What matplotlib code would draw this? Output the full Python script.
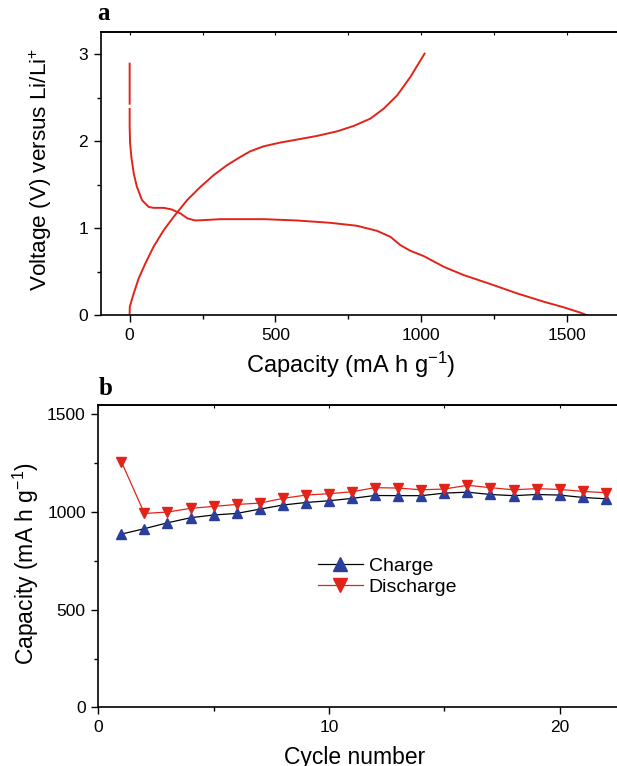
import numpy as np
import matplotlib
matplotlib.use('agg')
import matplotlib.pyplot as plt
from matplotlib.ticker import MultipleLocator, FixedLocator, NullFormatter

plt.rcParams['font.family'] = ['Liberation Sans', 'DejaVu Sans']
plt.rcParams['mathtext.default'] = 'regular'

# panel a: first discharge / charge profile (mA h/g, V)
dis_cap = [0, 0, np.nan, 0, 0, 1.5, 5.8, 14, 25, 42.5, 65, 82, 117, 145, 174, 199, 225, 254,
           311, 414, 460, 574, 689, 780, 849, 895, 929, 963, 1009, 1078, 1146, 1238,
           1329, 1421, 1489, 1547, 1570]
dis_volt = [2.89, 2.43, np.nan, 2.37, 2.163, 1.98, 1.819, 1.628, 1.475, 1.322, 1.245, 1.234,
            1.234, 1.215, 1.170, 1.112, 1.089, 1.093, 1.104, 1.104, 1.104, 1.089, 1.062,
            1.028, 0.970, 0.901, 0.806, 0.741, 0.680, 0.557, 0.462, 0.359, 0.252, 0.156,
            0.092, 0.030, 0.0]
chg_cap = [0, 0.5, 14, 31, 54, 82, 117, 151, 197, 243, 288, 334, 380, 414, 460, 517, 574,
           643, 712, 769, 826, 872, 918, 963, 1012]
chg_volt = [0.023, 0.099, 0.252, 0.424, 0.596, 0.787, 0.978, 1.131, 1.322, 1.475, 1.609,
            1.724, 1.819, 1.884, 1.941, 1.984, 2.018, 2.060, 2.113, 2.175, 2.259, 2.374,
            2.526, 2.736, 3.005]

# panel b: cycling performance
cycles = list(range(1, 23))
charge = [887, 915, 945, 971, 985, 993, 1015, 1036, 1049, 1058, 1070, 1085, 1084, 1084,
          1097, 1102, 1090, 1084, 1090, 1087, 1075, 1068]
discharge = [1258, 993, 1000, 1019, 1029, 1039, 1046, 1070, 1087, 1094, 1104, 1125, 1123,
             1114, 1118, 1137, 1125, 1114, 1120, 1116, 1106, 1099]

red = '#e2231a'
blue = '#2a3f9c'

fig = plt.figure(figsize=(6.17, 7.66), dpi=100)

# ---- panel a
ax1 = fig.add_axes([0.1629, 0.5884, 0.8974, 0.3694])
ax1.plot(dis_cap, dis_volt, color=red, lw=1.4)
ax1.plot(chg_cap, chg_volt, color=red, lw=1.4)
ax1.set_xlim(-100, 1800)
ax1.set_ylim(0, 3.25)
ax1.xaxis.set_major_locator(FixedLocator([0, 500, 1000, 1500]))
ax1.xaxis.set_minor_locator(FixedLocator([250, 750, 1250, 1750]))
ax1.yaxis.set_major_locator(MultipleLocator(1))
ax1.yaxis.set_minor_locator(MultipleLocator(0.5))
ax1.set_xlabel('Capacity (mA h g$^{-1}$)', fontsize=17)
ax1.xaxis.set_label_coords(0.452, -0.123)
ax1.set_ylabel('Voltage (V) versus Li/Li$^{+}$', fontsize=16.2)
ax1.yaxis.set_label_coords(-0.084, 0.515)
ax1.text(-0.005, 1.025, 'a', transform=ax1.transAxes, fontsize=18, fontweight='bold',
         family='Liberation Serif', va='bottom', ha='left')

# ---- panel b
ax2 = fig.add_axes([0.1593, 0.0766, 0.9347, 0.3951])
ax2.plot(cycles, charge, color='black', lw=0.9, marker='^', ms=7,
         mfc=blue, mec=blue, label='Charge')
ax2.plot(cycles, discharge, color=red, lw=0.9, marker='v', ms=7,
         mfc=red, mec=red, label='Discharge')
ax2.set_xlim(0, 25)
ax2.set_ylim(0, 1550)
ax2.xaxis.set_major_locator(MultipleLocator(10))
ax2.xaxis.set_minor_locator(MultipleLocator(5))
ax2.yaxis.set_major_locator(MultipleLocator(500))
ax2.yaxis.set_minor_locator(MultipleLocator(250))
ax2.set_xlabel('Cycle number', fontsize=16.5)
ax2.xaxis.set_label_coords(0.445, -0.128)
ax2.set_ylabel('Capacity (mA h g$^{-1}$)', fontsize=16.5)
ax2.yaxis.set_label_coords(-0.1, 0.475)
ax2.text(0.0, 1.015, 'b', transform=ax2.transAxes, fontsize=18, fontweight='bold',
         family='Liberation Serif', va='bottom', ha='left')
ax2.legend(loc='center left', bbox_to_anchor=(0.381, 0.432), frameon=False, fontsize=14,
           markerscale=1.5, handlelength=2.3, handletextpad=0.3, labelspacing=0.2,
           borderpad=0, borderaxespad=0)

for ax in (ax1, ax2):
    for s in ax.spines.values():
        s.set_linewidth(1.2)
    ax.spines['right'].set_visible(False)
    ax.tick_params(which='both', direction='out', width=1.0, labelsize=12.5, pad=4)
    ax.tick_params(which='major', length=5)
    ax.tick_params(which='minor', length=3)
    # small inward ticks on the top frame
    top = ax.secondary_xaxis('top')
    top.xaxis.set_major_locator(ax.xaxis.get_major_locator())
    top.xaxis.set_minor_locator(ax.xaxis.get_minor_locator())
    top.xaxis.set_major_formatter(NullFormatter())
    top.tick_params(which='both', direction='in', length=2.5, width=0.8)
    top.spines['top'].set_linewidth(1.2)

fig.savefig('out.png', dpi=100)
